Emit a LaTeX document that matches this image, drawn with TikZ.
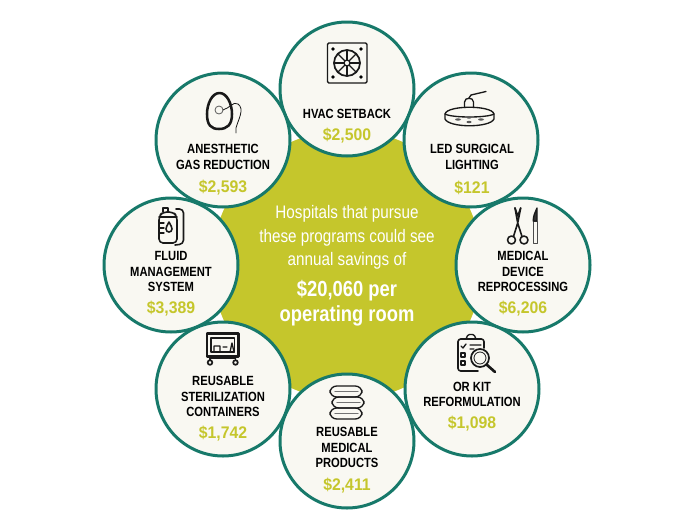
\documentclass[tikz,border=0pt]{standalone}
\usepackage{fontspec}
\setmainfont[FakeStretch=0.84]{Liberation Sans}
\newfontfamily\valuefont[FakeStretch=0.94]{Liberation Sans}
\definecolor{spotteal}{HTML}{17796A}
\definecolor{spotfill}{HTML}{F9F8F2}
\definecolor{spotolive}{HTML}{C5C62C}
\tikzset{
  spot/.style={draw=spotteal,fill=spotfill,circle,line width=2.25pt,minimum size=100.5pt,inner sep=0,outer sep=0,anchor=center},
  labeltext/.style={font=\bfseries\fontsize{10}{11.6}\selectfont,align=center,text=black,inner sep=0},
  valuetext/.style={font=\valuefont\bfseries\fontsize{12.6}{14}\selectfont,text=spotolive,inner sep=0},
  introtext/.style={font=\fontsize{13.6}{17.6}\selectfont,align=center,text=white,inner sep=0},
  totaltext/.style={font=\bfseries\fontsize{16.4}{18.7}\selectfont,align=center,text=white,inner sep=0},
  icon/.style={draw=black!90,line width=1pt,line cap=round,line join=round},
  iconthin/.style={icon,line width=0.6pt},
  iconfat/.style={icon,line width=1.9pt}
}
\begin{document}
\begin{tikzpicture}[x=0.75pt,y=-0.75pt]
    \useasboundingbox (0,0) rectangle (700,525);
    \node[draw=none,fill=spotolive,circle,minimum size=202.5pt,inner sep=0,outer sep=0] (hub) at (347,265) {};

    \node[spot] (hvac) at (347,89) {};
    \node[spot] (led) at (471,140) {};
    \node[spot] (device) at (523,265) {};
    \node[spot] (orkit) at (472,389) {};
    \node[spot] (products) at (347,441) {};
    \node[spot] (containers) at (223,389) {};
    \node[spot] (fluid) at (171,265) {};
    \node[spot] (gas) at (223,140) {};

    \node[introtext] (intro) at (347,237.5) {Hospitals that pursue\\these programs could see\\annual savings of};
    \node[totaltext] (total) at (347,303.5) {\$20,060 per\\operating room};

    \node[labeltext] (hvaclabel) at (347,114) {HVAC SETBACK};
    \node[valuetext] (hvacvalue) at (347,136) {\$2,500};
    \node[labeltext] (ledlabel) at (472,157) {LED SURGICAL\\LIGHTING};
    \node[valuetext] (ledvalue) at (472,188) {\$121};
    \node[labeltext] (devicelabel) at (523,271.5) {MEDICAL\\DEVICE\\REPROCESSING};
    \node[valuetext] (devicevalue) at (523,309) {\$6,206};
    \node[labeltext] (orkitlabel) at (472,394.5) {OR KIT\\REFORMULATION};
    \node[valuetext] (orkitvalue) at (472,424) {\$1,098};
    \node[labeltext] (productslabel) at (347,447.5) {REUSABLE\\MEDICAL\\PRODUCTS};
    \node[valuetext] (productsvalue) at (347,486) {\$2,411};
    \node[labeltext] (containerslabel) at (223,396.5) {REUSABLE\\STERILIZATION\\CONTAINERS};
    \node[valuetext] (containersvalue) at (223,434) {\$1,742};
    \node[labeltext] (fluidlabel) at (171,271.5) {FLUID\\MANAGEMENT\\SYSTEM};
    \node[valuetext] (fluidvalue) at (171,309) {\$3,389};
    \node[labeltext] (gaslabel) at (223,157) {ANESTHETIC\\GAS REDUCTION};
    \node[valuetext] (gasvalue) at (223,188) {\$2,593};

    % fan
    \draw[icon,rounded corners=1pt] (327.5,43) rectangle (367,83);
    \draw[icon,line width=1.3pt] (347,63) circle (13);
    \draw[icon] (347,63) circle (3);
    \foreach \a in {0,45,...,315}
        \draw[icon] (347,63) ++(\a:3) -- ++(\a:10);
    \foreach \a in {-1,1}
        \foreach \b in {-1,1}
            \fill[black] (347+14*\a,63+14*\b) circle (1.8);

    % lamp
    \draw[icon] (445,114) .. controls (447,105) and (492,105) .. (494,114) -- (494,119) .. controls (490,128) and (449,128) .. (445,119) -- cycle;
    \draw[icon] (445,114) .. controls (452,118) and (487,118) .. (494,114);
    \draw[icon] (464.5,107.5) -- (464.5,102) .. controls (464.5,97) and (473.5,97) .. (473.5,102) -- (473.5,107.5);
    \draw[icon] (469,98) -- (471,95) -- (486,91.5);
    \fill[black!65] (458,119.5) ellipse (3 and 1.2) (481,119.5) ellipse (3 and 1.2) (469,117.5) ellipse (2.5 and 1.2) (469,122) ellipse (2.5 and 1.2);

    % forceps and scalpel
    \draw[icon,line width=1.2pt] (511.5,240) circle (4) (524,240) circle (4);
    \draw[icon,line width=1.2pt] (513.5,236.5) -- (517.7,223) -- (520.7,208) (522,236.5) -- (517.7,223) -- (515,208);
    \draw[icon,line width=1.2pt] (515,208) -- (517.7,216) -- (520.7,208);
    \draw[iconthin,draw=black!70] (533.3,243) -- (533.3,221) -- (537,221) -- (537,243) -- cycle;
    \draw[icon,fill=black!80] (537,221) -- (533.3,221) .. controls (533,216) and (535,213) .. (537,208) -- cycle;

    % clipboard and magnifier
    \draw[icon,line width=1.2pt,rounded corners=2pt] (478,371) -- (458,371) -- (458,339) -- (484,339) -- (484,348);
    \draw[icon,rounded corners=1pt] (466,339) -- (468,334.5) -- (474,334.5) -- (476,339);
    \draw[icon] (461,346) -- (463,348) -- (466,344) (470,345) -- (481,345) (470,349) -- (474,349);
    \draw[icon,line width=1.2pt] (461,353) rectangle (465,357) (461,361) rectangle (465,365);
    \draw[icon,line width=1.3pt] (480,358) circle (9);
    \draw[iconthin] (480,358) circle (6);
    \draw[icon,line width=2pt] (486.5,364.5) -- (495,372);

    % towels
    \draw[icon,rounded corners=5pt] (330,386) rectangle (362,397);
    \draw[icon,rounded corners=5pt] (332,397) rectangle (364,408);
    \draw[icon,rounded corners=5pt] (330,408) rectangle (362,419);
    \draw[iconthin,draw=black!55,line width=1pt] (335,391.5) -- (358,391.5);
    \draw[iconthin,draw=black!55,line width=1pt] (337,402.5) -- (360,402.5);
    \draw[iconthin,draw=black!55,line width=1pt] (335,413.5) -- (358,413.5);

    % container
    \draw[icon,line width=1.8pt] (207,333.5) rectangle (238.5,356.5);
    \draw[icon] (211,338) rectangle (234.5,352);
    \draw[icon] (214,352) -- (214,346) -- (220,346) -- (220,352) (223,347) -- (227,347) (230,352) -- (232,343) -- (234,352);
    \draw[icon,line width=1.4pt] (210,356.5) -- (210,360) (235.5,356.5) -- (235.5,360) (210,358.5) -- (235.5,358.5);
    \draw[icon,line width=1.3pt] (210,362.5) circle (2.3) (235.5,362.5) circle (2.3);

    % bag
    \draw[icon,line width=1.2pt,rounded corners=3pt] (159,216) -- (159,243) -- (177,243) -- (177,216) -- (173,212) -- (163,212) -- cycle;
    \draw[icon] (159,217) -- (177,217);
    \draw[icon] (163,212) -- (163,208) -- (168,208) -- (168,212);
    \draw[icon] (159,223) -- (164,223) (159,228) -- (164,228) (159,233) -- (164,233);
    \draw[icon,line width=1.2pt] (169,222) .. controls (171,226) and (172,227) .. (172,229) .. controls (172,233) and (166,233) .. (166,229) .. controls (166,227) and (167,226) .. (169,222);
    \draw[icon,line width=1.2pt,rounded corners=3pt] (176,209) -- (183.5,209) -- (183.5,244) -- (175,245);

    % mask
    \draw[iconfat] (219.5,93) .. controls (227,93) and (232,104) .. (232,114) .. controls (232,125) and (227,129) .. (219,129) .. controls (211,129) and (207,125) .. (207,114) .. controls (207,104) and (212,93) .. (219.5,93);
    \draw[iconthin,draw=black!65] (219,110) circle (4);
    \draw[iconthin] (223,110) .. controls (230,108) and (233,101) .. (238,104) .. controls (245,109) and (238,120) .. (236,128) -- (236,133);
\end{tikzpicture}
\end{document}
